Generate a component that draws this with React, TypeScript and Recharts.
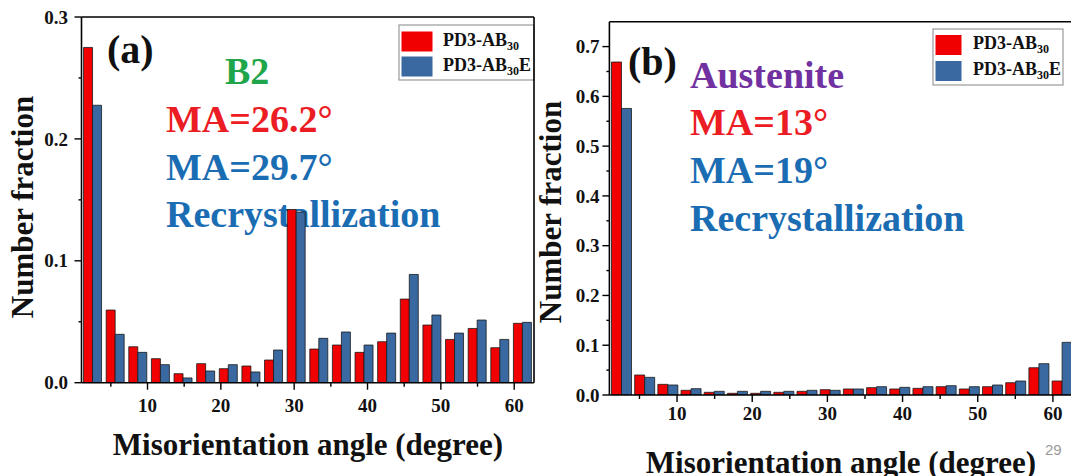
import React from "react";
import { BarChart, Bar, XAxis, YAxis } from "recharts";

// number fraction per 3.1° bin, 20 bins from ~1° to ~62.7°
const RED_A = [0.275, 0.0596, 0.0295, 0.0197, 0.0074, 0.0156, 0.0115, 0.0137, 0.0186, 0.142, 0.0276, 0.0309, 0.0249, 0.0336, 0.0686, 0.0473, 0.0355, 0.0445, 0.0287, 0.0487];
const BLUE_A = [0.2276, 0.0397, 0.0249, 0.0148, 0.0039, 0.0096, 0.0148, 0.0088, 0.0268, 0.14, 0.0364, 0.0416, 0.0309, 0.0407, 0.0888, 0.0555, 0.0407, 0.0514, 0.0355, 0.0495];
const RED_B = [0.669, 0.0402, 0.0214, 0.0094, 0.0054, 0.0034, 0.0034, 0.0054, 0.0074, 0.0107, 0.0121, 0.0147, 0.0121, 0.0134, 0.0167, 0.0121, 0.0167, 0.0247, 0.0548, 0.0281];
const BLUE_B = [0.5757, 0.0355, 0.0201, 0.0127, 0.0074, 0.0074, 0.0074, 0.0074, 0.0094, 0.0094, 0.0121, 0.0167, 0.0154, 0.0167, 0.0187, 0.0167, 0.0201, 0.0281, 0.0629, 0.1058];

const X_TICKS = [5, 10, 15, 20, 25, 30, 35, 40, 45, 50, 55, 60];
const Y_TICKS_A = [0, 0.05, 0.1, 0.15, 0.2, 0.25, 0.3];
const Y_TICKS_B = [0, 0.05, 0.1, 0.15, 0.2, 0.25, 0.3, 0.35, 0.4, 0.45, 0.5, 0.55, 0.6, 0.65, 0.7];
const X_DOMAIN: [number, number] = [1, 62.7];

const SERIES = [
  { key: "red", base: "PD3-AB", sub: "30", tail: "", color: "#F00000" },
  { key: "blue", base: "PD3-AB", sub: "30", tail: "E", color: "#3A69A2" },
];

const FONT = '"Liberation Serif", "Times New Roman", serif';
const TXT_RED = "#EC1C24";
const TXT_BLUE = "#1B6DB3";
const TXT_GREEN = "#1FA64A";
const TXT_PURPLE = "#7131A1";
const AXIS = { stroke: "#000", strokeWidth: 1.6 };

type Box = { top: number; right: number; bottom: number; left: number };

type PanelProps = {
  left: number;
  red: number[];
  blue: number[];
  yMax: number;
  yTicks: number[];
  plot: Box; // edges of the plotting area inside the 540x476 chart
  yLabelGap: number;
  xLabelDrop: number;
};

function Panel({ left, red, blue, yMax, yTicks, plot, yLabelGap, xLabelDrop }: PanelProps) {
  const data = red.map((v, i) => ({ bin: i, red: v, blue: blue[i] }));
  // every axis takes 1px, so the margins are one pixel smaller than the plot edges
  const margin = { top: plot.top - 1, right: plot.right - 1, bottom: plot.bottom - 1, left: plot.left - 1 };

  const xTick = (p: any) => {
    const v = p.payload.value;
    const major = v % 10 === 0;
    return (
      <g>
        <line x1={p.x} x2={p.x} y1={p.y} y2={p.y + (major ? 7 : 4)} stroke="#000" strokeWidth={1.4} />
        {major && (
          <text x={p.x} y={p.y + xLabelDrop} textAnchor="middle" fontFamily={FONT} fontWeight="bold" fontSize={19} fill="#111">
            {v}
          </text>
        )}
      </g>
    );
  };

  const yTick = (p: any) => {
    const v = p.payload.value;
    const major = Math.round(v * 100) % 10 === 0;
    return (
      <g>
        <line x1={p.x} x2={p.x - (major ? 7 : 3)} y1={p.y} y2={p.y} stroke="#000" strokeWidth={1.4} />
        {major && (
          <text x={p.x - yLabelGap} y={p.y} dy="0.35em" textAnchor="end" fontFamily={FONT} fontWeight="bold" fontSize={19} fill="#111">
            {v.toFixed(1)}
          </text>
        )}
      </g>
    );
  };

  return (
    <div style={{ position: "absolute", left, top: 0 }}>
      <BarChart width={540} height={476} data={data} margin={margin} barCategoryGap="9%" barGap={0}>
        <XAxis xAxisId="cat" dataKey="bin" orientation="top" tick={false} tickLine={false} height={1} axisLine={AXIS} />
        <XAxis
          xAxisId="num"
          dataKey="bin"
          type="number"
          domain={X_DOMAIN}
          allowDataOverflow
          ticks={X_TICKS}
          interval={0}
          tick={xTick}
          tickLine={false}
          tickSize={0}
          tickMargin={0}
          height={1}
          axisLine={AXIS}
        />
        <YAxis
          yAxisId="left"
          type="number"
          domain={[0, yMax]}
          allowDataOverflow
          ticks={yTicks}
          interval={0}
          tick={yTick}
          tickLine={false}
          tickSize={0}
          tickMargin={0}
          width={1}
          axisLine={AXIS}
        />
        <YAxis yAxisId="right" orientation="right" type="number" domain={[0, yMax]} allowDataOverflow tick={false} tickLine={false} width={1} axisLine={AXIS} />
        {SERIES.map((s) => (
          <Bar
            key={s.key}
            xAxisId="cat"
            yAxisId="left"
            dataKey={s.key}
            fill={s.color}
            stroke="#1a1a1a"
            strokeWidth={0.8}
            isAnimationActive={false}
          />
        ))}
      </BarChart>
    </div>
  );
}

function LegendBox({ x, y, w, h, sw, textX, rows }: { x: number; y: number; w: number; h: number; sw: number; textX: number; rows: number[] }) {
  return (
    <g>
      <rect x={x} y={y} width={w} height={h} fill="#fff" stroke="#9a9a9a" strokeWidth={1.2} />
      {SERIES.map((s, i) => (
        <g key={s.key}>
          <rect x={x + 2.5} y={rows[i] - 14} width={sw} height={20} fill={s.color} />
          <text x={textX} y={rows[i]} fontFamily={FONT} fontWeight="bold" fontSize={18} fill="#111">
            <tspan>{s.base}</tspan>
            <tspan fontSize={12} dy={4}>{s.sub}</tspan>
            {s.tail && <tspan dy={-4}>{s.tail}</tspan>}
          </text>
        </g>
      ))}
    </g>
  );
}

export default function App() {
  const big = { fontFamily: FONT, fontWeight: "bold" as const, fontSize: 38 };
  const title = { fontFamily: FONT, fontWeight: "bold" as const, fontSize: 31, fill: "#111" };
  return (
    <div style={{ position: "fixed", left: 0, top: 0, width: 1071, height: 476, overflow: "hidden", background: "#fff" }}>
      <svg width={1071} height={476} style={{ position: "absolute", left: 0, top: 0 }}>
        {/* panel (a) annotations */}
        <text x={107} y={63} fontFamily={FONT} fontWeight="bold" fontSize={40} fill="#111">(a)</text>
        <text x={225} y={84} {...big} fill={TXT_GREEN}>B2</text>
        <text x={166} y={131.5} {...big} fill={TXT_RED}>MA=26.2°</text>
        <text x={166} y={180} {...big} fill={TXT_BLUE}>MA=29.7°</text>
        <text x={166} y={226.5} {...big} fill={TXT_BLUE}>Recrystallization</text>
        <LegendBox x={399} y={25} w={135} h={55} sw={31} textX={443} rows={[45.5, 70.5]} />
        <text transform="translate(33,207) rotate(-90)" textAnchor="middle" {...title}>Number fraction</text>
        <text x={308} y={455} textAnchor="middle" {...title}>Misorientation angle (degree)</text>

        {/* panel (b) annotations */}
        <text x={628} y={75} fontFamily={FONT} fontWeight="bold" fontSize={40} fill="#111">(b)</text>
        <text x={690} y={88} {...big} fill={TXT_PURPLE}>Austenite</text>
        <text x={690} y={135} {...big} fill={TXT_RED}>MA=13°</text>
        <text x={690} y={183} {...big} fill={TXT_BLUE}>MA=19°</text>
        <text x={690} y={231} {...big} fill={TXT_BLUE}>Recrystallization</text>
        <LegendBox x={933} y={29} w={130} h={56} sw={26} textX={973} rows={[49, 75]} />
        <text transform="translate(561,212) rotate(-90)" textAnchor="middle" {...title}>Number fraction</text>
        <text x={841} y={473} textAnchor="middle" {...title}>Misorientation angle (degree)</text>
        <text x={1045} y={455} fontFamily="Arial, 'Liberation Sans', sans-serif" fontSize={15} fill="#999">29</text>
      </svg>

      <Panel
        left={0}
        red={RED_A}
        blue={BLUE_A}
        yMax={0.3}
        yTicks={Y_TICKS_A}
        plot={{ top: 17, right: 6, bottom: 93.3, left: 81.5 }}
        yLabelGap={13.5}
        xLabelDrop={29.3}
      />
      <Panel
        left={540}
        red={RED_B}
        blue={BLUE_B}
        yMax={0.75}
        yTicks={Y_TICKS_B}
        plot={{ top: 21.7, right: 6.8, bottom: 81, left: 69.4 }}
        yLabelGap={10}
        xLabelDrop={25}
      />
    </div>
  );
}
